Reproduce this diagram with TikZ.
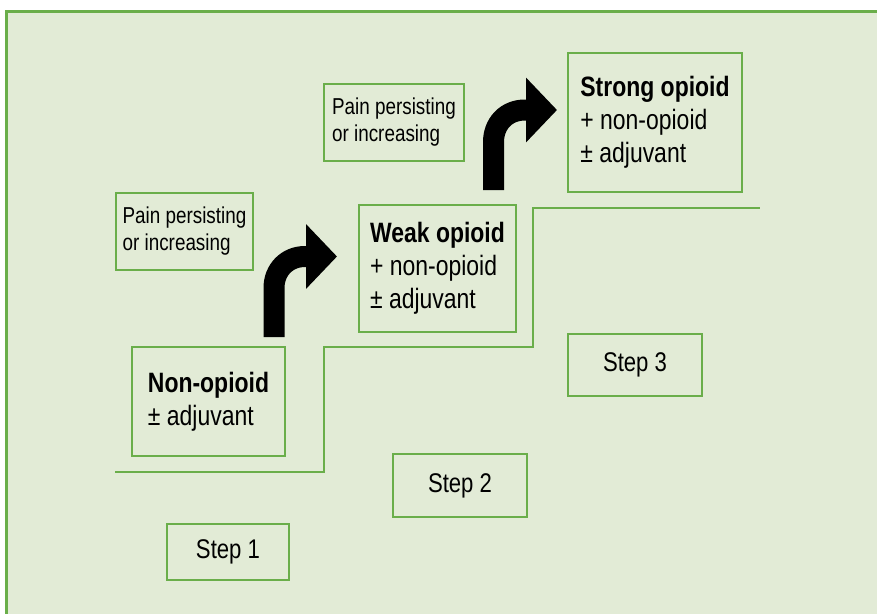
\documentclass[tikz,border=0pt]{standalone}
\usepackage{fontspec}
\setmainfont{Liberation Sans}[FakeStretch=0.82]
\usepackage{xcolor}
\usepackage{tikz}
\usetikzlibrary{positioning,arrows.meta}
\definecolor{panelfill}{RGB}{226, 235, 214}
\definecolor{panelgreen}{RGB}{106, 174, 74}
\tikzset{
    green box/.style={rectangle, draw=panelgreen, line width=2pt, inner sep=0pt, align=left, text=black},
    drug box/.style={green box, font=\fontsize{28}{33}\selectfont},
    pain box/.style={green box, font=\fontsize{23}{27}\selectfont},
    step box/.style={green box, align=center, font=\fontsize{27}{32}\selectfont},
    stair line/.style={draw=panelgreen, line width=2pt},
    escalate arrow/.style={line width=21pt, black, -{Triangle[length=31pt, width=63pt]}}
}

\begin{document}
\begin{tikzpicture}[x=1pt, y=-1pt]
    % Frame and background
    \clip (0,0) rectangle (877,613);
    \fill[white] (0,0) rectangle (877,613);
    \draw[draw=panelgreen, fill=panelfill, line width=3pt] (6,11) rectangle (900,640);

    % Staircase
    \draw[stair line] (115,472) -- (324,472) -- (324,347) -- (533,347) -- (533,208) -- (760,208);

    % Drug boxes
    \node[drug box, minimum width=153pt, minimum height=109pt] (nonopioid) at (208.5,401.5)
        {\textbf{Non-opioid}\\± adjuvant};
    \node[drug box, minimum width=157pt, minimum height=127pt] (weak) at (437.5,268.5)
        {\textbf{Weak opioid}\\+ non-opioid\\± adjuvant};
    \node[drug box, minimum width=174pt, minimum height=139pt] (strong) at (655,122.5)
        {\textbf{Strong opioid}\\+ non-opioid\\± adjuvant};

    % Pain labels
    \node[pain box, minimum width=137pt, minimum height=77pt] (pain1) at (184.5,231.5)
        {Pain persisting\\or increasing};
    \node[pain box, minimum width=140pt, minimum height=77pt] (pain2) at (394,122.5)
        {Pain persisting\\or increasing};

    % Step labels
    \node[step box, minimum width=122pt, minimum height=56pt] (step1) at (228,552) {Step 1};
    \node[step box, minimum width=134pt, minimum height=63pt] (step2) at (460,485.5) {Step 2};
    \node[step box, minimum width=134pt, minimum height=62pt] (step3) at (635,365) {Step 3};

    % Escalation arrows
    \coordinate (up1) at (274,337);
    \coordinate (tip1) at (337,256.5);
    \draw[escalate arrow] (up1) -- (274,288) .. controls (274,270) and (287,256.5) .. (305,256.5) -- (tip1);
    \coordinate (up2) at (493.5,190);
    \coordinate (tip2) at (557,110);
    \draw[escalate arrow] (up2) -- (493.5,142) .. controls (493.5,124) and (506,110) .. (525,110) -- (tip2);
\end{tikzpicture}
\end{document}
